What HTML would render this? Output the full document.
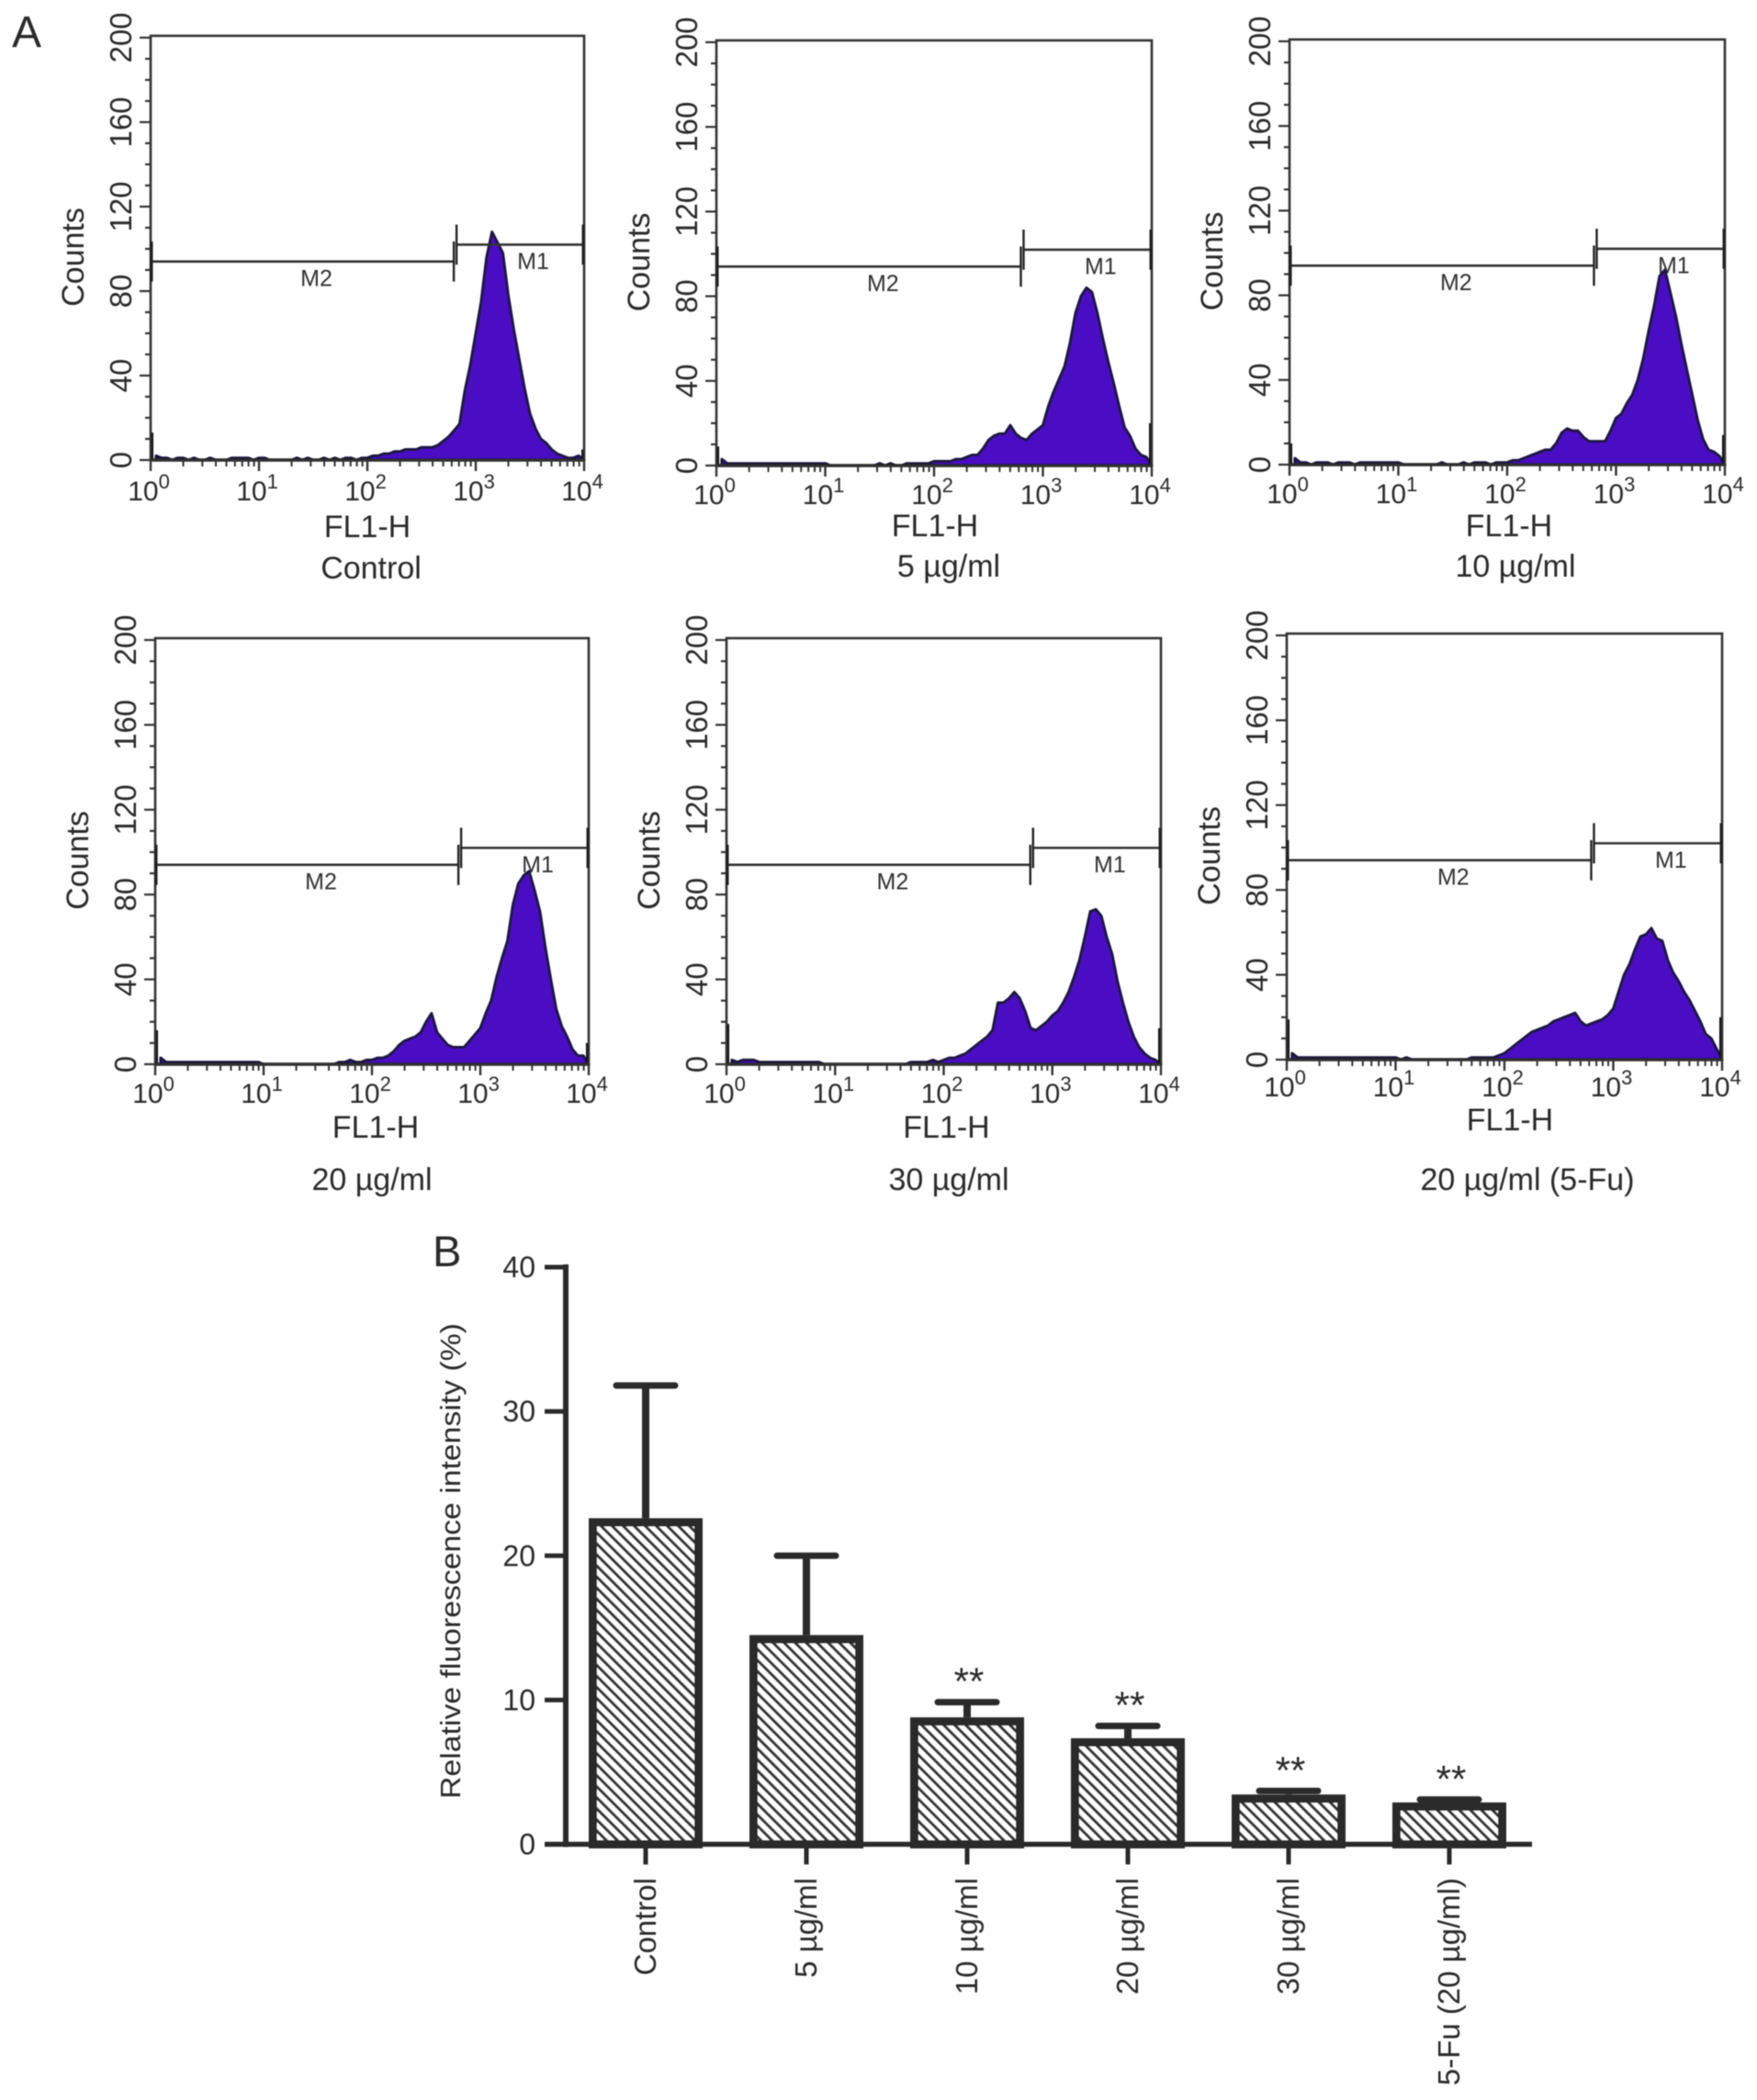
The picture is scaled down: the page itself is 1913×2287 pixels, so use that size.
<!DOCTYPE html>
<html lang="en">
<head>
<meta charset="utf-8">
<title>Flow cytometry histograms and relative fluorescence intensity</title>
<style>
html,body{margin:0;padding:0;background:#fff;}
svg{display:block;}
text{font-family:"Liberation Sans",Arial,sans-serif;fill:#2a2a2a;}
</style>
</head>
<body>
<svg id="figure" xmlns="http://www.w3.org/2000/svg" width="1913" height="2287" viewBox="0 0 1913 2287">
  <defs>
    <pattern id="hatch" patternUnits="userSpaceOnUse" width="8.5" height="8.5" patternTransform="rotate(-45)">
      <rect x="0" y="0" width="8.5" height="8.5" fill="#fff"></rect>
      <rect x="0" y="0" width="3.2" height="8.5" fill="#333"></rect>
    </pattern>
    <filter id="soften" x="0" y="0" width="100%" height="100%"><feGaussianBlur stdDeviation="0.55"></feGaussianBlur></filter>
  </defs>
  <rect x="0" y="0" width="1913" height="2287" fill="#fff"></rect>
  <g id="content" filter="url(#soften)">
    <text x="13" y="51" font-size="48">A</text>
    <text x="471" y="1379" font-size="47">B</text>
    <g id="panelA"></g>
    <g id="panelB"></g>
  </g>
</svg>
<script>
/* ---------- Panel A data: counts per 0.05-decade bin of FL1-H (81 values; first and last are the edge spikes) ---------- */
const countsControl = [13,2,1,1,0,1,1,0,1,0,0,1,0,0,0,1,1,1,1,0, 1,1,0,0,0,0,0,1,0,1,0,0,1,0,1,0,1,1,0,1,
  1,2,2,3,3,4,4,5,5,5,6,6,6,7,9,11,14,17,33,45,
  60,75,96,108,103,98,78,62,48,34,22,15,10,8,5,3,2,1,1,2,5];
const counts5 = [9,3,1,1,1,1,1,1,1,1,1,1,1,1,1,1,1,1,1,1, 1,0,0,0,0,0,0,0,0,0,1,0,1,0,0,1,1,1,1,1,
  2,2,2,2,3,3,4,5,5,8,12,14,15,15,19,15,13,12,15,17,
  19,28,35,41,47,58,72,80,84,82,72,60,49,39,28,18,14,8,5,4,20];
const counts10 = [10,3,1,1,0,1,1,1,0,1,1,1,0,1,1,1,1,1,1,1, 1,0,0,0,0,0,0,0,1,0,0,0,1,0,1,1,1,0,1,1,
  1,2,2,3,4,5,6,7,7,10,15,17,16,16,13,11,11,11,11,16,
  22,24,29,33,40,50,63,75,89,92,81,70,57,45,33,21,12,7,6,4,14];
const counts20 = [16,3,1,1,1,1,1,1,1,1,1,1,1,1,1,1,1,1,1,1, 0,0,0,0,0,0,0,0,0,0,0,0,0,0,1,1,2,1,1,2,
  2,3,3,4,6,9,11,12,13,15,20,24,15,12,9,8,8,8,11,14,
  17,24,30,41,50,58,75,85,89,91,82,72,55,40,26,18,13,7,4,4,10];
const counts30 = [19,2,1,2,2,2,1,1,1,1,1,1,1,1,1,1,1,1,0,0, 0,0,0,0,0,0,0,0,0,0,0,0,0,0,1,1,1,1,2,1,
  2,3,3,4,5,7,9,11,13,16,29,29,31,34,31,25,17,16,18,20,
  23,25,29,34,41,49,60,72,73,70,60,52,39,29,20,13,8,5,3,2,17];
const counts5Fu = [19,3,1,1,1,1,1,1,1,1,1,1,1,1,1,1,1,1,1,1, 1,0,1,0,0,0,0,0,0,0,0,0,0,0,1,1,1,1,1,2,
  3,5,7,9,11,13,14,15,16,18,19,20,21,22,18,16,17,18,19,21,
  24,32,40,45,52,58,59,62,57,56,47,41,37,32,28,23,18,12,10,5,20];

const yTickLabels = [0,40,80,120,160,200];
const yMinorStep = 10;
const yMax = 200;
const logDecades = [0,1,2,3,4];
const logMultiples = [2,3,4,5,6,7,8,9];
const binWidth = 0.05;
const gateSplit = 2.81;
const gateM2 = 94;
const gateM1 = 102;

/* ---------- Panel B data ---------- */
const barCategories = ['Control','5 µg/ml','10 µg/ml','20 µg/ml','30 µg/ml','5-Fu (20 µg/ml)'];
const barValues = [22.6,14.5,8.8,7.35,3.45,2.9];
const barErrorTops = [31.8,20.0,9.85,8.2,3.7,3.1];
const barSignificance = ['','','**','**','**','**'];
const barYTicks = [0,10,20,30,40];

const NS = 'http://www.w3.org/2000/svg';
function add(parent, tag, attrs, text){
  const el = document.createElementNS(NS, tag);
  for (const k in attrs) el.setAttribute(k, attrs[k]);
  if (text !== undefined) el.textContent = text;
  parent.appendChild(el);
  return el;
}

function drawFlow(root, slug, frame, counts, caption){
  const x0 = frame.left, x1 = frame.right, yT = frame.top, yZ = frame.zero;
  const xScale = d => x0 + (x1 - x0) * d / 4;
  const yScale = c => yZ - (yZ - yT) * c / yMax;

  const g = add(root, 'g', {});
  
  

  // histogram outline through the bins; edge bins are drawn as spikes
  let d = 'M' + xScale(binWidth) + ' ' + yZ;
  for (let i = 1; i < counts.length - 1; i++) {
    d += ' L' + xScale(i * binWidth).toFixed(1) + ' ' + yScale(counts[i]).toFixed(1);
  }
  d += ' L' + xScale(4) + ' ' + yZ + ' Z';
  const hist = add(g, 'path', {d: d, fill: '#4c10c4', stroke: '#1a1440', 'stroke-width': 3, 'stroke-linejoin': 'round'});
  
  

  const spikeL = add(g, 'line', {x1: x0 + 1, x2: x0 + 1, y1: yZ, y2: yScale(counts[0]), stroke: '#111', 'stroke-width': 4});
  
  
  const spikeR = add(g, 'line', {x1: x1 - 1, x2: x1 - 1, y1: yZ, y2: yScale(counts[counts.length - 1]), stroke: '#111', 'stroke-width': 4});
  
  

  const base = add(g, 'line', {x1: x0, x2: x1, y1: yZ, y2: yZ, stroke: '#111', 'stroke-width': 3.5});
  
  

  const box = add(g, 'rect', {x: x0, y: yT - 2, width: x1 - x0, height: yZ - yT + 2, fill: 'none', stroke: '#333', 'stroke-width': 2.6});
  
  

  // y ticks
  for (let v = 0; v <= yMax; v += yMinorStep) {
    const major = yTickLabels.indexOf(v) >= 0;
    const t = add(g, 'line', {x1: x0 - (major ? 12 : 6), x2: x0, y1: yScale(v), y2: yScale(v), stroke: '#333', 'stroke-width': 2.2});
    
    
  }
  yTickLabels.forEach(v => {
    const bx = x0 - 21, by = yScale(v);
    const t = add(g, 'text', {x: bx, y: by, 'font-size': 33, 'text-anchor': 'middle', transform: 'rotate(-90 ' + bx + ' ' + by + ')'}, String(v));
    
    
  });

  // x ticks (log axis)
  logDecades.forEach(dec => {
    const maj = add(g, 'line', {x1: xScale(dec), x2: xScale(dec), y1: yZ, y2: yZ + 12, stroke: '#333', 'stroke-width': 2.4});
    
    

    const lab = add(g, 'text', {x: xScale(dec) - 2, y: yZ + 45 + frame.tickDy, 'font-size': 30, 'text-anchor': 'middle'});
    
    
    const base10 = add(lab, 'tspan', {}, '10');
    
    
    const sup = add(lab, 'tspan', {dy: -13, 'font-size': 22}, String(dec));
    
    

    if (dec < 4) {
      logMultiples.forEach(m => {
        const xm = xScale(dec + Math.log10(m));
        const mn = add(g, 'line', {x1: xm, x2: xm, y1: yZ, y2: yZ + 7, stroke: '#333', 'stroke-width': 2});
        
        
      });
    }
  });

  // gates
  const xs = xScale(gateSplit);
  const m2 = add(g, 'line', {x1: x0 + 2, x2: xs - 1, y1: yScale(gateM2), y2: yScale(gateM2), stroke: '#333', 'stroke-width': 2.6});
  
  
  const m1 = add(g, 'line', {x1: xs + 1, x2: x1 - 2, y1: yScale(gateM1), y2: yScale(gateM1), stroke: '#333', 'stroke-width': 2.6});
  
  

  const capA = add(g, 'line', {x1: x0 + 1, x2: x0 + 1, y1: yScale(gateM2 + 9.5), y2: yScale(gateM2 - 9.5), stroke: '#222', 'stroke-width': 3});
  
  
  const capB = add(g, 'line', {x1: xs - 1.5, x2: xs - 1.5, y1: yScale(gateM2 + 9.5), y2: yScale(gateM2 - 9.5), stroke: '#222', 'stroke-width': 2.4});
  
  
  const capC = add(g, 'line', {x1: xs + 1.5, x2: xs + 1.5, y1: yScale(gateM1 + 9.5), y2: yScale(gateM1 - 9.5), stroke: '#222', 'stroke-width': 2.4});
  
  
  const capD = add(g, 'line', {x1: x1 - 1, x2: x1 - 1, y1: yScale(gateM1 + 9.5), y2: yScale(gateM1 - 9.5), stroke: '#222', 'stroke-width': 3});
  
  

  const lm2 = add(g, 'text', {x: xScale(1.53), y: yScale(gateM2 - 11.5), 'font-size': 25, 'text-anchor': 'middle', style: 'fill:#333'}, 'M2');
  
  
  const lm1 = add(g, 'text', {x: xScale(3.53), y: yScale(gateM1 - 11.5), 'font-size': 25, 'text-anchor': 'middle', style: 'fill:#333'}, 'M1');
  
  

  // axis titles
  const cx = x0 - 73, cy = (yT + yZ) / 2 + 9;
  const yt = add(g, 'text', {x: cx, y: cy, 'font-size': 34, 'text-anchor': 'middle', transform: 'rotate(-90 ' + cx + ' ' + cy + ')'}, 'Counts');
  
  

  const xt = add(g, 'text', {x: (x0 + x1) / 2 + frame.titleShift, y: yZ + 84 + frame.titleDy, 'font-size': 34, 'text-anchor': 'middle'}, 'FL1-H');
  
  

  const cap = add(g, 'text', {x: frame.captionX, y: frame.captionY, 'font-size': 34, 'text-anchor': 'middle'}, caption);
  
  
}

const rootA = document.getElementById('panelA');
drawFlow(rootA, 'control', {left:164, right:636, top:41, zero:501, titleShift:0, titleDy:0, tickDy:-1, captionX:404, captionY:630}, countsControl, 'Control');
drawFlow(rootA, 'dose-5', {left:780, right:1254, top:46, zero:507, titleShift:1, titleDy:-7, tickDy:-3, captionX:1033, captionY:628}, counts5, '5 µg/ml');
drawFlow(rootA, 'dose-10', {left:1404, right:1878, top:45, zero:506, titleShift:2, titleDy:-6, tickDy:-3, captionX:1650, captionY:628}, counts10, '10 µg/ml');
drawFlow(rootA, 'dose-20', {left:169, right:641, top:697, zero:1159, titleShift:4, titleDy:-4, tickDy:-3, captionX:405, captionY:1296}, counts20, '20 µg/ml');
drawFlow(rootA, 'dose-30', {left:791, right:1264, top:697, zero:1159, titleShift:3, titleDy:-4, tickDy:-3, captionX:1033, captionY:1296}, counts30, '30 µg/ml');
drawFlow(rootA, 'fu-20', {left:1401, right:1875, top:692, zero:1154, titleShift:6, titleDy:-7, tickDy:-5, captionX:1663, captionY:1296}, counts5Fu, '20 µg/ml (5-Fu)');

/* ---------- Panel B ---------- */
(function(){
  const root = document.getElementById('panelB');
  const axisX = 616, yZero = 2008.5, yTop = 1380, axisEnd = 1668;
  const barMax = 40;
  const firstCenter = 703, centerStep = 175, barW = 115, sw = 9;
  const yS = v => yZero - (yZero - yTop) * v / barMax;
  const xS = i => firstCenter + centerStep * i;

  const yAxis = add(root, 'line', {x1: axisX, x2: axisX, y1: yTop - 3, y2: yZero + 3, stroke: '#2a2a2a', 'stroke-width': 6});
  
  

  barYTicks.forEach(v => {
    const t = add(root, 'line', {x1: axisX - 23, x2: axisX, y1: yS(v), y2: yS(v), stroke: '#2a2a2a', 'stroke-width': 5});
    
    
    const l = add(root, 'text', {x: axisX - 33, y: yS(v) + 11, 'font-size': 32, 'text-anchor': 'end'}, String(v));
    
    
  });

  const tx = 501, ty = 1700;
  const title = add(root, 'text', {x: tx, y: ty, 'font-size': 31, 'text-anchor': 'middle', textLength: 518, lengthAdjust: 'spacingAndGlyphs', transform: 'rotate(-90 ' + tx + ' ' + ty + ')'}, 'Relative fluorescence intensity (%)');
  
  

  barCategories.forEach((name, i) => {
    const cx = xS(i);
    const stem = add(root, 'line', {x1: cx, x2: cx, y1: yS(barValues[i]), y2: yS(barErrorTops[i]), stroke: '#2a2a2a', 'stroke-width': 8});
    
    
    const cap = add(root, 'line', {x1: cx - 32, x2: cx + 32, y1: yS(barErrorTops[i]), y2: yS(barErrorTops[i]), stroke: '#2a2a2a', 'stroke-width': 7, 'stroke-linecap': 'round'});
    
    

    const topY = yS(barValues[i]) + sw / 2;
    const bar = add(root, 'rect', {x: cx - barW / 2, y: topY, width: barW, height: yZero - topY, fill: 'url(#hatch)', stroke: '#2a2a2a', 'stroke-width': sw});
    
    

    const tick = add(root, 'line', {x1: cx, x2: cx, y1: yZero, y2: yZero + 22, stroke: '#2a2a2a', 'stroke-width': 5});
    
    

    const lx = cx + 11, ly = 2045;
    const lab = add(root, 'text', {x: lx, y: ly, 'font-size': 33, 'text-anchor': 'end', transform: 'rotate(-90 ' + lx + ' ' + ly + ')'}, name);
    
    

    if (barSignificance[i]) {
      const star = add(root, 'text', {x: cx + 2, y: yS(barErrorTops[i]) - 8, 'font-size': 42, 'text-anchor': 'middle'}, barSignificance[i]);
      
      
    }
  });

  const xAxis = add(root, 'line', {x1: axisX - 23, x2: axisEnd, y1: yZero, y2: yZero, stroke: '#2a2a2a', 'stroke-width': 5.5});
  
  
})();
</script>
</body>
</html>
